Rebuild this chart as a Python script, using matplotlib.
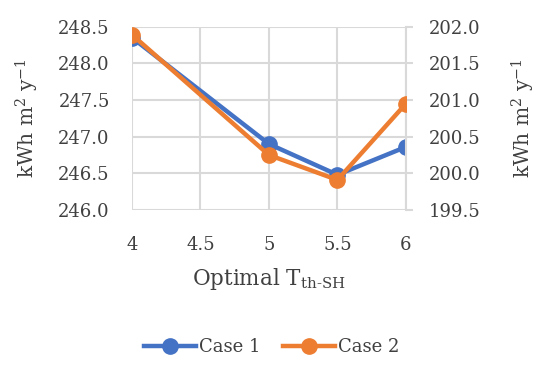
import matplotlib
matplotlib.use("Agg")
import matplotlib.pyplot as plt
from matplotlib.ticker import FormatStrFormatter

x_vals = [4, 5, 5.5, 6]
case1 = [248.35, 246.90, 246.48, 246.86]
case2 = [201.89, 200.25, 199.91, 200.95]
x_ticks = [4, 4.5, 5, 5.5, 6]
left_ticks = [246.0, 246.5, 247.0, 247.5, 248.0, 248.5]
right_ticks = [199.5, 200.0, 200.5, 201.0, 201.5, 202.0]

plt.rcParams['font.family'] = ['DejaVu Serif']
plt.rcParams['mathtext.fontset'] = 'dejavuserif'

blue = '#4472C4'
orange = '#ED7D31'
grid = '#D9D9D9'
txt = '#404040'

fig = plt.figure(figsize=(5.5, 3.7), dpi=100)
ax = fig.add_axes([0.24, 0.4324, 0.498, 0.4956])
ax2 = ax.twinx()

l1, = ax.plot(x_vals, case1, color=blue, lw=3.2, marker='o', ms=11, zorder=3)
l2, = ax2.plot(x_vals, case2, color=orange, lw=3.2, marker='o', ms=11, zorder=3)

ax.set_xlim(4, 6)
ax.set_ylim(246.0, 248.5)
ax2.set_ylim(199.5, 202.0)
ax.set_xticks(x_ticks)
ax.set_xticklabels(['4', '4.5', '5', '5.5', '6'])
ax.set_yticks(left_ticks)
ax2.set_yticks(right_ticks)
ax.yaxis.set_major_formatter(FormatStrFormatter('%.1f'))
ax2.yaxis.set_major_formatter(FormatStrFormatter('%.1f'))

ax.grid(True, color=grid, lw=1.5)
ax.set_axisbelow(True)
for a in (ax, ax2):
    for s in a.spines.values():
        s.set_visible(False)
ax2.spines['right'].set_visible(True)
ax2.spines['right'].set_color(grid)
ax2.spines['right'].set_linewidth(1.5)
ax.tick_params(axis='y', length=0, labelsize=13, colors=txt, pad=16)
ax.tick_params(axis='x', length=0, labelsize=13, colors=txt, pad=19)
ax2.tick_params(axis='y', length=5, width=1.5, color=grid, labelsize=13,
                labelcolor=txt, pad=11.5)

ax.set_ylabel('kWh m$^{2}$ y$^{-1}$', fontsize=14.5, color=txt, labelpad=12)
ax2.set_ylabel('kWh m$^{2}$ y$^{-1}$', fontsize=14.5, color=txt, labelpad=21)
ax.set_xlabel(r'Optimal T$_{\mathrm{th\text{-}SH}}$', fontsize=15.5, color=txt, labelpad=8)

fig.legend([l1, l2], ['Case 1', 'Case 2'], loc='center', bbox_to_anchor=(0.494, 0.062),
           ncol=2, frameon=False, fontsize=13, labelcolor=txt, handlelength=2.9,
           handletextpad=0.15, columnspacing=1.25)

fig.savefig('out.png', dpi=100)
